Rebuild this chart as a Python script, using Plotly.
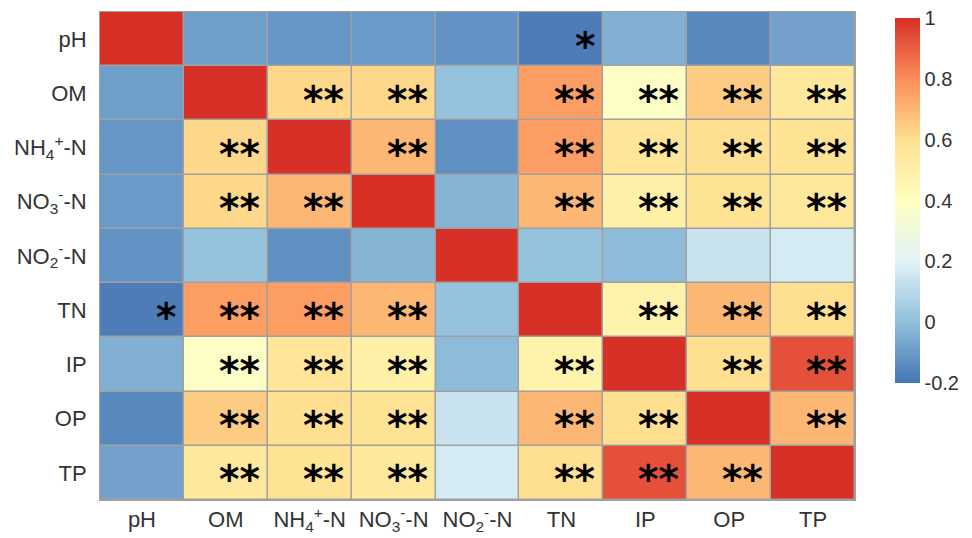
import plotly.graph_objects as go

variables = ["pH", "OM", "NH4", "NO3", "NO2", "TN", "IP", "OP", "TP"]
tick_labels = ["pH", "OM", "NH<sub>4</sub><sup>+</sup>-N", "NO<sub>3</sub><sup>-</sup>-N",
               "NO<sub>2</sub><sup>-</sup>-N", "TN", "IP", "OP", "TP"]

r_pH  = [1.00, -0.09, -0.11, -0.10, -0.12, -0.18, -0.04, -0.15, -0.08]
r_OM  = [-0.09, 1.00, 0.62, 0.62, 0.01, 0.76, 0.38, 0.65, 0.55]
r_NH4 = [-0.11, 0.62, 1.00, 0.70, -0.13, 0.76, 0.57, 0.60, 0.58]
r_NO3 = [-0.10, 0.62, 0.70, 1.00, -0.03, 0.70, 0.50, 0.58, 0.55]
r_NO2 = [-0.12, 0.01, -0.13, -0.03, 1.00, 0.01, -0.01, 0.14, 0.17]
r_TN  = [-0.18, 0.76, 0.76, 0.70, 0.01, 1.00, 0.48, 0.70, 0.60]
r_IP  = [-0.04, 0.38, 0.57, 0.50, -0.01, 0.48, 1.00, 0.60, 0.93]
r_OP  = [-0.15, 0.65, 0.60, 0.58, 0.14, 0.70, 0.60, 1.00, 0.70]
r_TP  = [-0.08, 0.55, 0.58, 0.55, 0.17, 0.60, 0.93, 0.70, 1.00]
corr = [r_pH, r_OM, r_NH4, r_NO3, r_NO2, r_TN, r_IP, r_OP, r_TP]

s_pH  = ["", "", "", "", "", "*", "", "", ""]
s_OM  = ["", "", "**", "**", "", "**", "**", "**", "**"]
s_NH4 = ["", "**", "", "**", "", "**", "**", "**", "**"]
s_NO3 = ["", "**", "**", "", "", "**", "**", "**", "**"]
s_NO2 = ["", "", "", "", "", "", "", "", ""]
s_TN  = ["*", "**", "**", "**", "", "", "**", "**", "**"]
s_IP  = ["", "**", "**", "**", "", "**", "", "**", "**"]
s_OP  = ["", "**", "**", "**", "", "**", "**", "", "**"]
s_TP  = ["", "**", "**", "**", "", "**", "**", "**", ""]
signif = [s_pH, s_OM, s_NH4, s_NO3, s_NO2, s_TN, s_IP, s_OP, s_TP]

colorscale = [
    [0.0, "#4575B4"], [1/6, "#91BFDB"], [2/6, "#E0F3F8"], [3/6, "#FFFFBF"],
    [4/6, "#FEE090"], [5/6, "#FC8D59"], [1.0, "#D73027"],
]

fig = go.Figure(go.Heatmap(
    z=corr, x=variables, y=variables,
    colorscale=colorscale, zmin=-0.2, zmax=1.0,
    xgap=1.5, ygap=1.5,
    colorbar=dict(
        thickness=25, lenmode="pixels", len=365,
        x=(895 - 100) / 755, xanchor="left", xpad=0,
        y=(500 - 18) / 488, yanchor="top", ypad=0,
        outlinewidth=0, ticks="",
        tickvals=[-0.2, 0, 0.2, 0.4, 0.6, 0.8, 1],
        ticktext=["-0.2", "0", "0.2", "0.4", "0.6", "0.8", "1"],
        tickfont=dict(size=20, color="#333333", family="Liberation Sans, Arial"),
    ),
    hoverinfo="z",
))

annotations = []
for i, row in enumerate(signif):
    for j, s in enumerate(row):
        if s:
            annotations.append(dict(
                x=variables[j], y=variables[i], xref="x", yref="y",
                text=s, showarrow=False, xanchor="right", yanchor="middle",
                xshift=36, yshift=-7,
                font=dict(size=39, color="black", family="DejaVu Sans", weight="bold"),
            ))

fig.update_layout(
    width=972, height=538,
    margin=dict(l=100, r=117, t=12, b=38, autoexpand=False),
    paper_bgcolor="white", plot_bgcolor="#a0a0a0",
    annotations=annotations,
    font=dict(family="Liberation Sans, Arial", size=22, color="#333333"),
)
fig.update_xaxes(tickvals=variables, ticktext=tick_labels, showgrid=False, zeroline=False,
                 range=[-0.5, 8.5], automargin=False,
                 ticks="", showline=True, linecolor="#a0a0a0", linewidth=1, mirror=True,
                 tickfont=dict(size=22, color="#333333"))
fig.update_yaxes(tickvals=variables, ticktext=tick_labels, showgrid=False, zeroline=False,
                 range=[8.5, -0.5], automargin=False,
                 ticks="", showline=True, linecolor="#a0a0a0", linewidth=1, mirror=True,
                 ticklabelstandoff=8,
                 tickfont=dict(size=22, color="#333333"))

fig.write_html("out.html", config={"displayModeBar": False},
               post_script="document.body.style.margin='0';document.body.style.overflow='hidden';")
